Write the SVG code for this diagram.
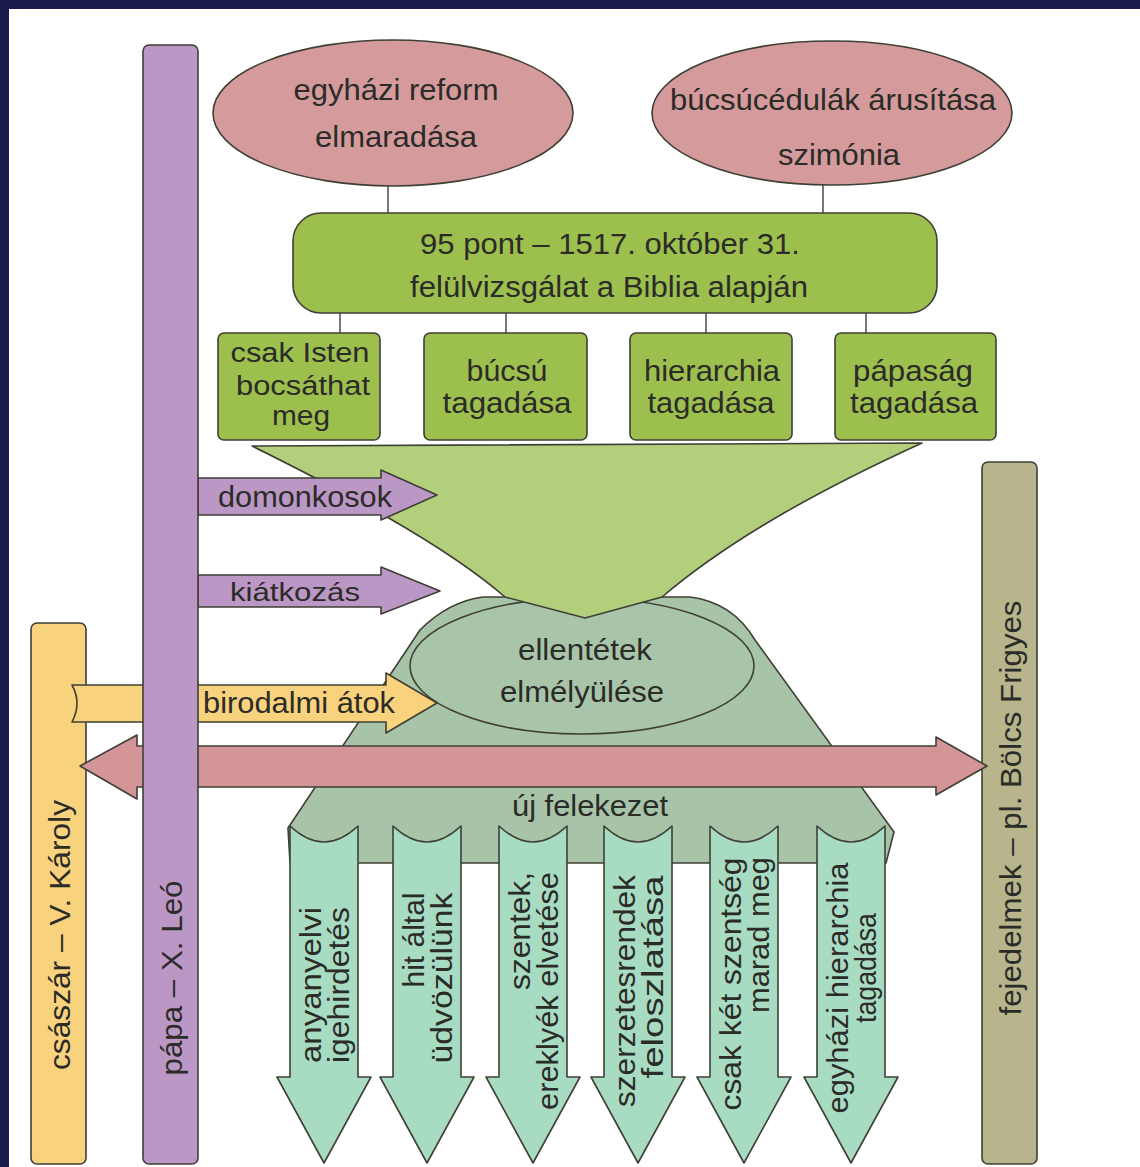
<svg xmlns="http://www.w3.org/2000/svg" width="1140" height="1167" viewBox="0 0 1140 1167">
<defs>
<style>
.t{font-family:"Liberation Sans",Arial,sans-serif;font-size:30px;fill:#2b2b28;text-anchor:middle}
.ts{text-anchor:start}
.sm{font-size:27px}
.s{stroke:#3f3f36;stroke-width:1.6;stroke-linejoin:round}
.pink{fill:#d59b9c}
.grn{fill:#9dbf4e}
.pur{fill:#bb97c5}
.yel{fill:#f9d27d}
.mint{fill:#a8dcc2}
.con{stroke:#555;stroke-width:1.6;fill:none}
</style>
</defs>
<rect x="0" y="0" width="1140" height="1167" fill="#1b1a4c"/>
<rect x="9" y="9" width="1131" height="1158" fill="#ffffff"/>

<g id="mound">
<path class="s" fill="#a7c4a8" d="M483 597 L690 597 C722 601 742 618 755 640 L894 832 L886 863 L290 863 L288 828 L420 630 C440 610 460 600 483 597 Z"/>
<text class="t" x="590" y="816" textLength="156" lengthAdjust="spacingAndGlyphs">új felekezet</text>
</g>
<g id="ellentetek">
<ellipse class="s" fill="#a9c5a9" cx="582" cy="666" rx="172" ry="68"/>
<text class="t" x="585" y="660" textLength="134" lengthAdjust="spacingAndGlyphs">ellentétek</text>
<text class="t" x="582" y="702" textLength="164" lengthAdjust="spacingAndGlyphs">elmélyülése</text>
</g>
<g id="funnel">
<path class="s" fill="#b3cf7c" d="M252 446 L922 443 C830 485 735 535 662 597 L585 618 L505 597 C445 545 345 492 252 446 Z"/>
</g>

<g id="connectors">
<line class="con" x1="388" y1="185" x2="388" y2="213"/>
<line class="con" x1="823" y1="184" x2="823" y2="213"/>
<line class="con" x1="340" y1="313" x2="340" y2="333"/>
<line class="con" x1="506" y1="313" x2="506" y2="333"/>
<line class="con" x1="706" y1="313" x2="706" y2="333"/>
<line class="con" x1="866" y1="313" x2="866" y2="333"/>
</g>

<g id="egyhazi-reform">
<ellipse class="s pink" cx="393" cy="113" rx="180" ry="73"/>
<text class="t" x="396" y="100" textLength="205" lengthAdjust="spacingAndGlyphs">egyházi reform</text>
<text class="t" x="396" y="147" textLength="162" lengthAdjust="spacingAndGlyphs">elmaradása</text>
</g>
<g id="bucsucedulak">
<ellipse class="s pink" cx="832" cy="113" rx="180" ry="72"/>
<text class="t" x="833" y="110" textLength="326" lengthAdjust="spacingAndGlyphs">búcsúcédulák árusítása</text>
<text class="t" x="839" y="165" textLength="122" lengthAdjust="spacingAndGlyphs">szimónia</text>
</g>
<g id="pont95">
<rect class="s grn" x="293" y="213" width="644" height="100" rx="28"/>
<text class="t" x="610" y="254" textLength="380" lengthAdjust="spacingAndGlyphs">95 pont – 1517. október 31.</text>
<text class="t" x="609" y="297" textLength="398" lengthAdjust="spacingAndGlyphs">felülvizsgálat a Biblia alapján</text>
</g>
<g id="csak-isten">
<rect class="s grn" x="218" y="333" width="162" height="107" rx="6"/>
<text class="t sm" x="300" y="362" textLength="139" lengthAdjust="spacingAndGlyphs">csak Isten</text>
<text class="t sm" x="303" y="395" textLength="134" lengthAdjust="spacingAndGlyphs">bocsáthat</text>
<text class="t sm" x="301" y="425" textLength="58" lengthAdjust="spacingAndGlyphs">meg</text>
</g>
<g id="bucsu">
<rect class="s grn" x="424" y="333" width="163" height="107" rx="6"/>
<text class="t" x="507" y="381" textLength="81" lengthAdjust="spacingAndGlyphs">búcsú</text>
<text class="t" x="507" y="413" textLength="129" lengthAdjust="spacingAndGlyphs">tagadása</text>
</g>
<g id="hierarchia">
<rect class="s grn" x="630" y="333" width="162" height="107" rx="6"/>
<text class="t" x="712" y="381" textLength="136" lengthAdjust="spacingAndGlyphs">hierarchia</text>
<text class="t" x="711" y="413" textLength="127" lengthAdjust="spacingAndGlyphs">tagadása</text>
</g>
<g id="papasag">
<rect class="s grn" x="835" y="333" width="161" height="107" rx="6"/>
<text class="t" x="913" y="381" textLength="120" lengthAdjust="spacingAndGlyphs">pápaság</text>
<text class="t" x="914" y="413" textLength="128" lengthAdjust="spacingAndGlyphs">tagadása</text>
</g>

<g id="domonkosok">
<path class="s pur" d="M198 478 L381 478 L381 470 L437 495 L381 520 L381 515 L198 515 Z"/>
<text class="t ts" x="218" y="507" textLength="174" lengthAdjust="spacingAndGlyphs">domonkosok</text>
</g>
<g id="kiatkozas">
<path class="s pur" d="M198 575 L381 575 L381 567 L440 591 L381 614 L381 607 L198 607 Z"/>
<text class="t ts" x="230" y="601" textLength="130" lengthAdjust="spacingAndGlyphs" style="font-size:26px">kiátkozás</text>
</g>

<g id="csaszar">
<rect class="s yel" x="31" y="623" width="55" height="541" rx="6"/>
<text class="t" transform="translate(70 935) rotate(-90)" textLength="270" lengthAdjust="spacingAndGlyphs">császár – V. Károly</text>
</g>
<g id="fejedelmek">
<rect class="s" fill="#b8b48c" x="982" y="462" width="55" height="702" rx="6"/>
<text class="t" transform="translate(1021 808) rotate(-90)" textLength="415" lengthAdjust="spacingAndGlyphs">fejedelmek – pl. Bölcs Frigyes</text>
</g>

<g id="birodalmi-atok">
<path class="s yel" d="M72 685 L386 685 L386 673 L437 703 L386 733 L386 722 L72 722 Q82 703 72 685 Z"/>
<text class="t ts" x="203" y="713" textLength="192" lengthAdjust="spacingAndGlyphs">birodalmi átok</text>
</g>
<g id="kettos-nyil">
<path class="s" fill="#d39597" d="M80 766 L137 735 L137 746 L936 746 L936 737 L987 766 L936 795 L936 787 L137 787 L137 799 Z"/>
</g>

<g id="papa">
<rect class="s pur" x="143" y="45" width="55" height="1119" rx="6"/>
<text class="t" transform="translate(182 978) rotate(-90)" textLength="195" lengthAdjust="spacingAndGlyphs">pápa – X. Leó</text>
</g>

<g id="anyanyelvi">
<path class="s mint" d="M290 826 Q324 858 358 826 L358 1077 L371 1077 L324 1163 L277 1077 L290 1077 Z"/>
<text class="t" transform="translate(321 985) rotate(-90)" textLength="156" lengthAdjust="spacingAndGlyphs">anyanyelvi</text>
<text class="t" transform="translate(349 985) rotate(-90)" textLength="156" lengthAdjust="spacingAndGlyphs">igehirdetés</text>
</g>
<g id="hit-altal">
<path class="s mint" d="M393 826 Q427 858 461 826 L461 1077 L474 1077 L427 1163 L380 1077 L393 1077 Z"/>
<text class="t" transform="translate(424 940) rotate(-90)" textLength="95" lengthAdjust="spacingAndGlyphs">hit által</text>
<text class="t" transform="translate(452 978) rotate(-90)" textLength="171" lengthAdjust="spacingAndGlyphs">üdvözülünk</text>
</g>
<g id="szentek">
<path class="s mint" d="M499 826 Q533 858 567 826 L567 1077 L580 1077 L533 1163 L486 1077 L499 1077 Z"/>
<text class="t" transform="translate(530 931) rotate(-90)" textLength="118" lengthAdjust="spacingAndGlyphs">szentek,</text>
<text class="t" transform="translate(558 991) rotate(-90)" textLength="238" lengthAdjust="spacingAndGlyphs">ereklyék elvetése</text>
</g>
<g id="szerzetesrendek">
<path class="s mint" d="M604 826 Q638 858 672 826 L672 1077 L685 1077 L638 1163 L591 1077 L604 1077 Z"/>
<text class="t" transform="translate(635 991) rotate(-90)" textLength="232" lengthAdjust="spacingAndGlyphs">szerzetesrendek</text>
<text class="t" transform="translate(663 977) rotate(-90)" textLength="203" lengthAdjust="spacingAndGlyphs">feloszlatása</text>
</g>
<g id="ket-szentseg">
<path class="s mint" d="M710 826 Q744 858 778 826 L778 1077 L791 1077 L744 1163 L697 1077 L710 1077 Z"/>
<text class="t" transform="translate(741 984) rotate(-90)" textLength="253" lengthAdjust="spacingAndGlyphs">csak két szentség</text>
<text class="t" transform="translate(769 935) rotate(-90)" textLength="156" lengthAdjust="spacingAndGlyphs">marad meg</text>
</g>
<g id="egyhazi-hierarchia">
<path class="s mint" d="M817 826 Q851 858 885 826 L885 1077 L898 1077 L851 1163 L804 1077 L817 1077 Z"/>
<text class="t" transform="translate(848 988) rotate(-90)" textLength="251" lengthAdjust="spacingAndGlyphs">egyházi hierarchia</text>
<text class="t" transform="translate(876 968) rotate(-90)" textLength="110" lengthAdjust="spacingAndGlyphs">tagadása</text>
</g>
</svg>
